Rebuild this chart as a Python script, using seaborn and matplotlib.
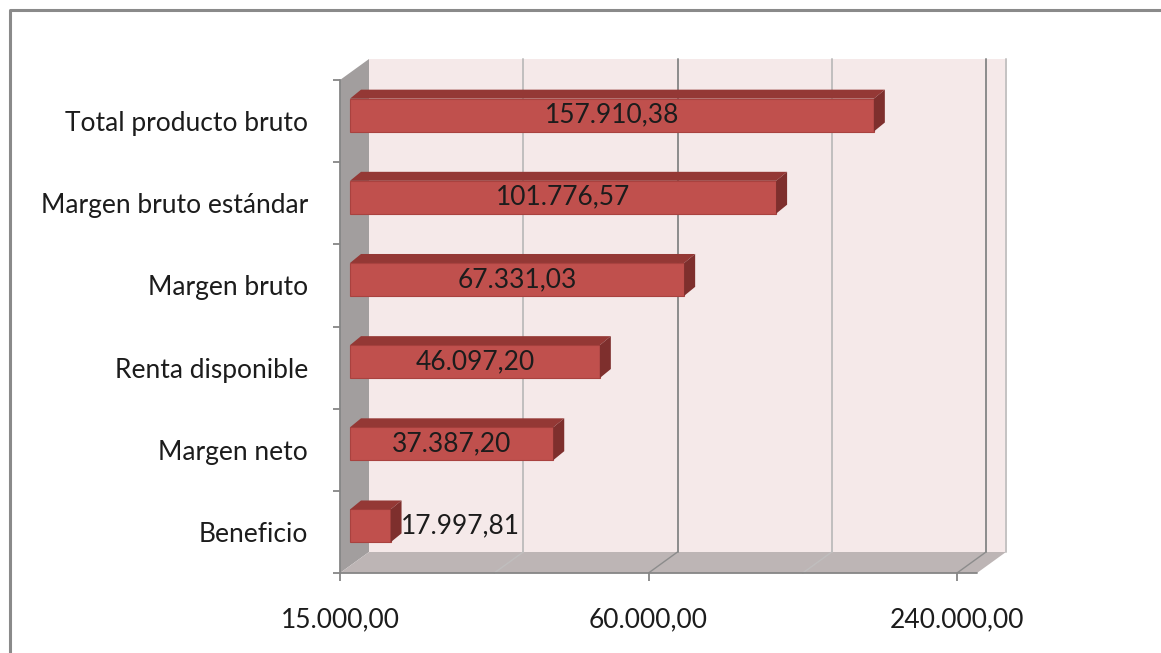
import numpy as np
import pandas as pd
import seaborn as sns
import matplotlib
matplotlib.use("Agg")
import matplotlib.pyplot as plt
from matplotlib.patches import Polygon
from matplotlib.lines import Line2D
from matplotlib.transforms import IdentityTransform, ScaledTranslation
from matplotlib.ticker import FixedLocator, FuncFormatter, NullFormatter

# --- data -------------------------------------------------------------
categories = [
    "Total producto bruto",
    "Margen bruto estándar",
    "Margen bruto",
    "Renta disponible",
    "Margen neto",
    "Beneficio",
]
values = [157910.38, 101776.57, 67331.03, 46097.20, 37387.20, 17997.81]
labeled_ticks = [15000, 60000, 240000]
grid_major = [60000, 240000]
grid_minor = [30000, 120000]
axis_min, axis_max = 15000, 240000

# --- style ------------------------------------------------------------
sns.set_style("white")
plt.rcParams["font.family"] = ["Lato", "DejaVu Sans"]
FS = 19
TEXT = "#1c1c1c"
BAR_FRONT = "#C0504D"
BAR_TOP = "#943835"
BAR_SIDE = "#7E2F2D"
WALL_BACK = "#F5E9E9"
WALL_LEFT = "#A29E9E"
FLOOR = "#BDB5B5"
AXIS_GRAY = "#868686"


def es_num(v, pos=None):
    s = f"{v:,.2f}"
    return s.replace(",", "X").replace(".", ",").replace("X", ".")


W, H = 1161, 653
DPI = 100
fig = plt.figure(figsize=(W / DPI, H / DPI), dpi=DPI)
fig.patch.set_facecolor("white")

# front plane of the 3-D box
ax = fig.add_axes([340 / W, (H - 573) / H, 617 / W, 493 / H])
ax.patch.set_alpha(0)

df = pd.DataFrame({"concepto": categories, "valor": values})
sns.barplot(data=df, x="valor", y="concepto", orient="h", color=BAR_FRONT,
            saturation=1, width=0.40, errorbar=None, ax=ax)

ax.set_xscale("log", base=2)
ax.set_xlim(axis_min, axis_max)
ax.set_ylim(len(categories) - 0.5, -0.5)
ax.set_autoscale_on(False)
ax.set_xlabel("")
ax.set_ylabel("")

# bars start at the value-axis origin
for patch, v in zip(ax.patches, values):
    patch.set_x(axis_min)
    patch.set_width(v - axis_min)


def px(x, y):
    return ax.transData.transform((x, y))


# depth offsets (display pixels)
DX, DY = 29, 21          # box depth
THICK = 20               # wall thickness on the right
BOX, BOY = 10, 6         # bar front face offset
BDX, BDY = 11, 9         # bar depth

x0, yb = px(axis_min, len(categories) - 0.5)
x1, yt = px(axis_max, -0.5)


def poly(pts, color, z, ec="none", lw=0):
    p = Polygon(pts, closed=True, facecolor=color, edgecolor=ec, linewidth=lw,
                transform=IdentityTransform(), zorder=z, clip_on=False)
    ax.add_patch(p)


def seg(p0, p1, color, lw, z):
    ax.add_line(Line2D([p0[0], p1[0]], [p0[1], p1[1]], color=color, linewidth=lw,
                       transform=IdentityTransform(), zorder=z, clip_on=False))


# walls and floor
poly([(x0 + DX, yb + DY), (x1 + DX + THICK, yb + DY),
      (x1 + DX + THICK, yt + DY), (x0 + DX, yt + DY)], WALL_BACK, 0.5)
poly([(x0, yb), (x0 + DX, yb + DY), (x0 + DX, yt + DY), (x0, yt)], WALL_LEFT, 0.8)
poly([(x0, yb), (x1 + THICK, yb), (x1 + THICK + DX, yb + DY), (x0 + DX, yb + DY)],
     FLOOR, 0.8)

# gridlines on back wall and floor
for g in grid_minor + grid_major:
    col = "#8C8C8C" if g in grid_major else "#C0BEBE"
    gx = px(g, 0)[0]
    seg((gx + DX, yb + DY), (gx + DX, yt + DY), col, 1.4, 0.9)
    seg((gx + DX, yb + DY), (gx, yb), col, 1.0, 0.9)
seg((x1 + DX + THICK, yb + DY), (x1 + DX + THICK, yt + DY), "#C4C2C2", 1.4, 0.9)

# axis lines
seg((x0, yb), (x1 + THICK, yb), AXIS_GRAY, 1.3, 1.0)

# bars: shift front faces, then add top and side faces
shift = ax.transData + ScaledTranslation(BOX / DPI, BOY / DPI, fig.dpi_scale_trans)
for i, (patch, v) in enumerate(zip(ax.patches, values)):
    patch.set_transform(shift)
    patch.set_clip_on(False)
    patch.set_zorder(5)
    patch.set_edgecolor("#A9423F")
    patch.set_linewidth(0.8)
    bx0 = px(axis_min, i)[0] + BOX
    bx1 = px(v, i)[0] + BOX
    ytop = px(axis_min, i - 0.2)[1] + BOY
    ybot = px(axis_min, i + 0.2)[1] + BOY
    poly([(bx0, ytop), (bx1, ytop), (bx1 + BDX, ytop + BDY), (bx0 + BDX, ytop + BDY)],
         BAR_TOP, 5.1)
    poly([(bx1, ytop), (bx1 + BDX, ytop + BDY), (bx1 + BDX, ybot + BDY), (bx1, ybot)],
         BAR_SIDE, 5.1)
    yc = (ytop + ybot) / 2
    if np.log2(v / axis_min) > 0.6:
        ax.text((bx0 + bx1) / 2, yc, es_num(v), ha="center", va="center",
                fontsize=FS, color=TEXT, transform=IdentityTransform(), zorder=6,
                clip_on=False)
    else:
        ax.text(bx1 + BDX - 1, yc, es_num(v), ha="left", va="center",
                fontsize=FS, color=TEXT, transform=IdentityTransform(), zorder=6,
                clip_on=False)

# spines and ticks
for side in ["top", "right", "bottom"]:
    ax.spines[side].set_visible(False)
ax.spines["left"].set_color(AXIS_GRAY)
ax.spines["left"].set_linewidth(1.3)
ax.spines["left"].set_zorder(1.0)

ax.xaxis.set_major_locator(FixedLocator(labeled_ticks))
ax.xaxis.set_major_formatter(FuncFormatter(es_num))
ax.xaxis.set_minor_locator(FixedLocator([]))
ax.xaxis.set_minor_formatter(NullFormatter())
ax.tick_params(axis="x", which="major", direction="out", length=6, width=1.3,
               color=AXIS_GRAY, labelsize=FS, labelcolor=TEXT, pad=19, bottom=True)

ax.yaxis.set_major_locator(FixedLocator(range(len(categories))))
ax.set_yticklabels(categories)
ax.yaxis.set_minor_locator(FixedLocator(np.arange(-0.5, len(categories), 1.0)))
ax.tick_params(axis="y", which="major", length=0, labelsize=FS, labelcolor=TEXT,
               pad=23, left=True)
ax.tick_params(axis="y", which="minor", direction="out", length=5, width=1.3,
               color=AXIS_GRAY, left=True)
ax.grid(False)

# chart area border
fig.add_artist(Line2D([9.5 / W, 9.5 / W, 1.0], [0.0, 1 - 10 / H, 1 - 10 / H],
                      color="#8A8A8A", linewidth=2.2, transform=fig.transFigure))

fig.savefig("out.png", dpi=DPI)
